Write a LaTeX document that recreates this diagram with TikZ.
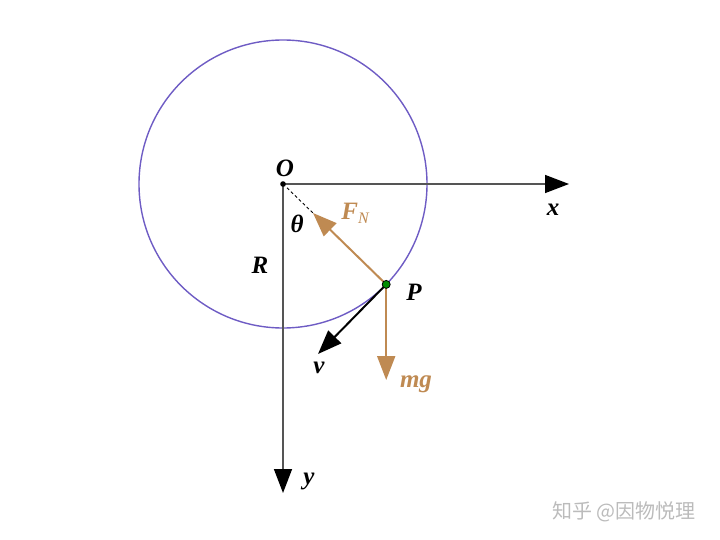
\documentclass[tikz,border=0pt]{standalone}
\usepackage{fontspec}
\setmainfont{Liberation Serif}
\newfontfamily\cjk{Noto Sans CJK SC}
\usetikzlibrary{arrows.meta}
\definecolor{tan}{HTML}{BF8A52}
\definecolor{circ}{HTML}{6E5CC4}
\definecolor{axisgray}{HTML}{555555}
\definecolor{wm}{HTML}{BBBBBB}
\begin{document}
\begin{tikzpicture}[x=1pt,y=-1pt,
  lbl/.style={font=\fontsize{25}{26}\selectfont\bfseries\itshape},
  axisline/.style={draw=axisgray,line width=1.5pt,-{Triangle[length=24pt,width=18pt,color=black]}},
  force/.style={draw=tan,line width=2pt,-{Triangle[length=24pt,width=18pt]}},
  vel/.style={draw=black,line width=2pt,-{Triangle[length=24pt,width=18pt]}}]
\useasboundingbox (0,0) rectangle (720,540);
\coordinate (O) at (283,184);
\coordinate (P) at (386.2,284.4);
\coordinate (XE) at (569,184);
\coordinate (YE) at (283,493);
\coordinate (FT) at (313,213);
\coordinate (VT) at (318,354);
\coordinate (GT) at (386.2,380);
\draw[circ,line width=1.4pt] (O) circle[radius=144];
\draw[axisline] (O) -- (XE);
\draw[axisline] (O) -- (YE);
\draw[dashed,line width=0.9pt,dash pattern=on 3pt off 2.5pt] (O) -- (FT);
\draw[force] (P) -- (FT);
\draw[force] (P) -- (GT);
\draw[vel] (P) -- (VT);
\fill[black] (O) circle[radius=2.8];
\filldraw[fill=green!55!black,draw=black,line width=0.8pt] (P) circle[radius=4];
\node[lbl] (lO) at (285,168) {O};
\node[lbl] (lx) at (553,210) {x};
\node[lbl] (ly) at (309,481) {y};
\node[lbl] (lR) at (260,265) {R};
\node[lbl] (lth) at (297,224) {θ};
\node[lbl] (lP) at (414,292) {P};
\node[lbl] (lv) at (319,368) {v};
\node[lbl,text=tan] (lmg) at (416,384) {mg};
\node[lbl,text=tan] (lF) at (355,213) {F\raisebox{-4pt}{\fontsize{16}{16}\selectfont\mdseries\itshape N}};
\node[font=\cjk\fontsize{20}{22}\selectfont,text=wm] (wmk) at (624,512) {知乎 @因物悦理};
\end{tikzpicture}
\end{document}
